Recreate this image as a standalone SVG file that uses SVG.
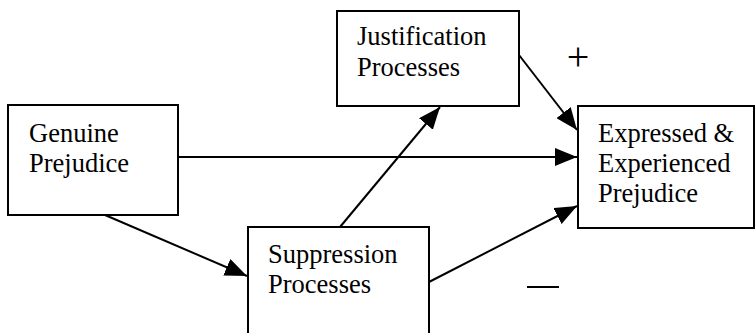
<svg xmlns="http://www.w3.org/2000/svg" width="756" height="333" viewBox="0 0 756 333">
<style>
.box{fill:#fff;stroke:#000;stroke-width:2}
.t{font-family:"Liberation Serif","Times New Roman",serif;font-size:26.5px;fill:#000}
.c{stroke:#000;stroke-width:2;fill:none}
</style>
<defs>
<marker id="a" viewBox="0 0 22 18" refX="22" refY="9" markerWidth="22" markerHeight="18" orient="auto" markerUnits="userSpaceOnUse">
<path d="M0,0 L22,9 L0,18 Z" fill="#000"/>
</marker>
</defs>
<rect width="756" height="333" fill="#fff"/>
<g id="genuine"><rect class="box" x="8" y="105" width="170" height="110"/><text class="t" x="29" y="142">Genuine</text><text class="t" x="29" y="172">Prejudice</text></g>
<g id="justification"><rect class="box" x="337" y="11" width="182" height="95"/><text class="t" x="357" y="45">Justification</text><text class="t" x="357" y="76">Processes</text></g>
<g id="expressed"><rect class="box" x="578" y="106" width="176" height="122"/><text class="t" x="598" y="142">Expressed &amp;</text><text class="t" x="598" y="172">Experienced</text><text class="t" x="598" y="202">Prejudice</text></g>
<g id="suppression"><rect class="box" x="248" y="227" width="181" height="120"/><text class="t" x="268" y="263">Suppression</text><text class="t" x="268" y="293">Processes</text></g>
<g id="connectors">
<line class="c" x1="178" y1="157" x2="577" y2="157" marker-end="url(#a)"/>
<line class="c" x1="105" y1="215" x2="247" y2="276" marker-end="url(#a)"/>
<line class="c" x1="340" y1="227" x2="440" y2="107" marker-end="url(#a)"/>
<line class="c" x1="519" y1="55" x2="577" y2="130" marker-end="url(#a)"/>
<line class="c" x1="429" y1="282" x2="577" y2="206" marker-end="url(#a)"/>
</g>
<text class="t" x="578" y="70" text-anchor="middle" style="font-size:40px">+</text>
<line x1="527" y1="287" x2="559" y2="287" stroke="#000" stroke-width="2"/>
</svg>
